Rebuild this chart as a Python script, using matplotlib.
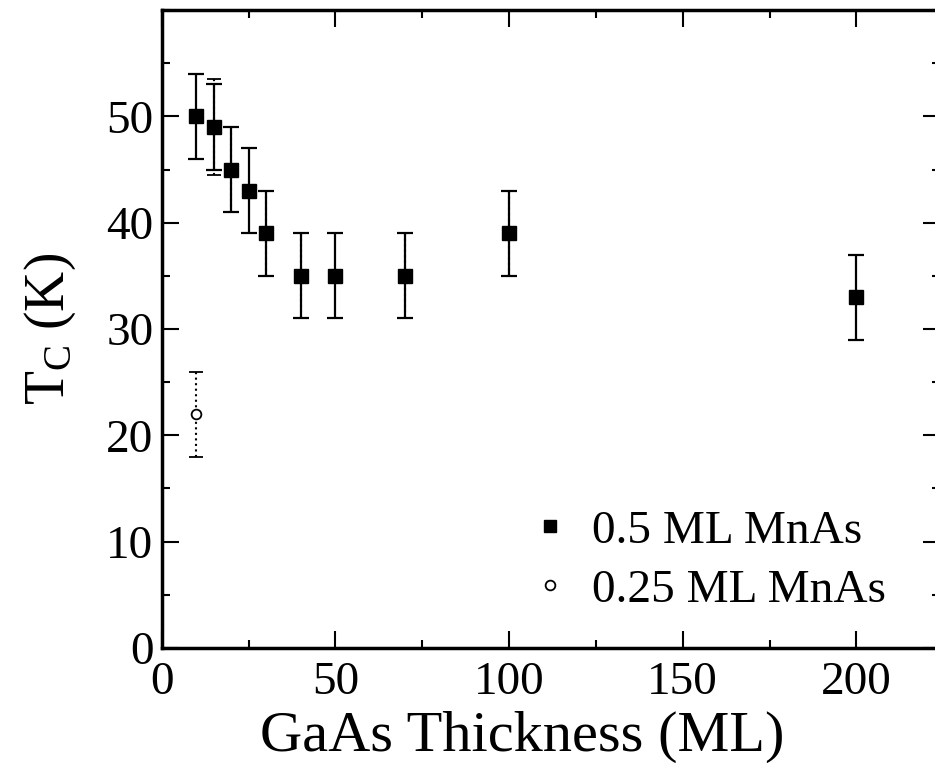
import matplotlib
matplotlib.use('Agg')
import matplotlib.pyplot as plt
from matplotlib.lines import Line2D
from matplotlib.ticker import MultipleLocator

# GaAs spacer thickness (ML) and Curie temperature (K)
thick_05 = [10, 15, 20, 25, 30, 40, 50, 70, 100, 200]
tc_05 = [50, 49, 45, 43, 39, 35, 35, 35, 39, 33]
err_05 = [4, 4, 4, 4, 4, 4, 4, 4, 4, 4]

thick_025 = [10, 15, 20, 30, 40, 70, 100]
tc_025 = [22, 49, 45, 39, 35, 35, 39]
err_025 = [4, 4.5, 4, 4, 4, 4, 4]

x_ticks = [0, 50, 100, 150, 200]
y_ticks = [0, 10, 20, 30, 40, 50]

plt.rcParams['font.family'] = ['Liberation Serif', 'DejaVu Serif']
plt.rcParams['mathtext.fontset'] = 'custom'
plt.rcParams['mathtext.rm'] = 'Liberation Serif'
plt.rcParams['mathtext.it'] = 'Liberation Serif:italic'

fig = plt.figure(figsize=(9.35, 7.75), dpi=100)
ax = fig.add_axes([0.173, 0.164, 0.832, 0.823])

# 0.25 ML series: open circles, dotted bars (mostly hidden under squares)
eb = ax.errorbar(thick_025, tc_025, yerr=err_025, fmt='o', ms=7,
                 mfc='white', mec='black', mew=1.3, color='black',
                 ecolor='black', elinewidth=1.5, capsize=5, capthick=1.5,
                 zorder=2)
for bars in eb[2]:
    bars.set_linestyle(':')

# 0.5 ML series: filled squares, solid bars
ax.errorbar(thick_05, tc_05, yerr=err_05, fmt='s', ms=10,
            mfc='black', mec='black', color='black', ecolor='black',
            elinewidth=1.6, capsize=6, capthick=1.6, zorder=3)

ax.set_xlim(0, 224)
ax.set_ylim(0, 60)
ax.set_xticks(x_ticks)
ax.set_yticks(y_ticks)
ax.xaxis.set_minor_locator(MultipleLocator(25))
ax.yaxis.set_minor_locator(MultipleLocator(5))
ax.tick_params(which='both', direction='in', top=True, right=True,
               labelsize=34, width=1.5)
ax.tick_params(which='major', length=12)
ax.tick_params(which='minor', length=6)
ax.tick_params(axis='x', pad=10)
ax.tick_params(axis='y', pad=6)
for sp in ax.spines.values():
    sp.set_linewidth(2.5)

ax.set_xlabel('GaAs Thickness (ML)', fontsize=42)
ax.xaxis.set_label_coords(0.463, -0.098)
ax.set_ylabel(r'T$_\mathrm{C}$ (K)', fontsize=40)
ax.yaxis.set_label_coords(-0.108, 0.5)

handles = [
    Line2D([], [], ls='none', marker='s', ms=9, mfc='black', mec='black'),
    Line2D([], [], ls='none', marker='o', ms=7, mfc='white', mec='black',
           mew=1.3),
]
ax.legend(handles, ['0.5 ML MnAs', '0.25 ML MnAs'], loc='lower left',
          bbox_to_anchor=(0.45, 0.02), frameon=False, fontsize=34,
          handlelength=0.6, handletextpad=0.6, labelspacing=0.33,
          borderpad=0)

fig.savefig('out.png', dpi=100)
